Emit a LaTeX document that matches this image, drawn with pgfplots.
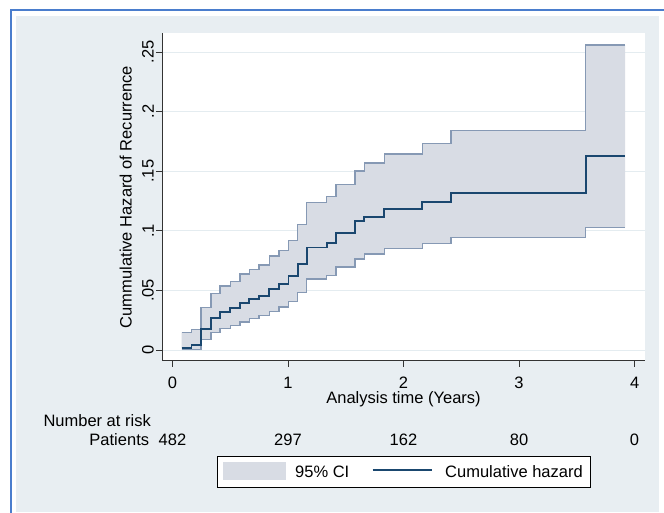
\documentclass[border=0pt]{standalone}
\usepackage{fontspec}
\setmainfont{Liberation Sans}
\usepackage{pgfplots}
\pgfplotsset{compat=1.18}
\usepackage{pgfplotstable}

\definecolor{bgcol}{RGB}{232,238,242}
\definecolor{bordercol}{RGB}{74,125,205}
\definecolor{cifill}{RGB}{216,220,228}
\definecolor{ciline}{RGB}{134,153,180}
\definecolor{hazcol}{RGB}{26,71,111}
\definecolor{gridcol}{RGB}{228,236,240}

% step estimates: time, cumulative hazard, upper and lower 95% CI
\pgfplotstableread{
t      H       U       L
0.080  0.0020  0.0145  0.0005
0.166  0.0040  0.0172  0.0005
0.247  0.0175  0.0355  0.0090
0.333  0.0270  0.0476  0.0145
0.412  0.0320  0.0537  0.0180
0.500  0.0350  0.0573  0.0205
0.584  0.0397  0.0638  0.0235
0.665  0.0425  0.0677  0.0262
0.750  0.0453  0.0713  0.0292
0.838  0.0510  0.0789  0.0325
0.922  0.0553  0.0835  0.0362
1.005  0.0620  0.0920  0.0405
1.085  0.0725  0.1053  0.0485
1.163  0.0860  0.1236  0.0595
1.335  0.0895  0.1288  0.0625
1.415  0.0982  0.1387  0.0697
1.580  0.1080  0.1503  0.0765
1.660  0.1118  0.1570  0.0805
1.834  0.1180  0.1644  0.0850
2.163  0.1244  0.1733  0.0895
2.410  0.1320  0.1840  0.0945
3.577  0.1628  0.2559  0.1029
3.918  0.1628  0.2559  0.1029
}\hazdata

% outline of the 95% CI band (upper steps forward, lower steps back)
\pgfplotstableread{
t      y
0.080  0.0145
0.166  0.0145
0.166  0.0172
0.247  0.0172
0.247  0.0355
0.333  0.0355
0.333  0.0476
0.412  0.0476
0.412  0.0537
0.500  0.0537
0.500  0.0573
0.584  0.0573
0.584  0.0638
0.665  0.0638
0.665  0.0677
0.750  0.0677
0.750  0.0713
0.838  0.0713
0.838  0.0789
0.922  0.0789
0.922  0.0835
1.005  0.0835
1.005  0.0920
1.085  0.0920
1.085  0.1053
1.163  0.1053
1.163  0.1236
1.335  0.1236
1.335  0.1288
1.415  0.1288
1.415  0.1387
1.580  0.1387
1.580  0.1503
1.660  0.1503
1.660  0.1570
1.834  0.1570
1.834  0.1644
2.163  0.1644
2.163  0.1733
2.410  0.1733
2.410  0.1840
3.577  0.1840
3.577  0.2559
3.918  0.2559
3.918  0.1029
3.577  0.1029
3.577  0.0945
2.410  0.0945
2.410  0.0895
2.163  0.0895
2.163  0.0850
1.834  0.0850
1.834  0.0805
1.660  0.0805
1.660  0.0765
1.580  0.0765
1.580  0.0697
1.415  0.0697
1.415  0.0625
1.335  0.0625
1.335  0.0595
1.163  0.0595
1.163  0.0485
1.085  0.0485
1.085  0.0405
1.005  0.0405
1.005  0.0362
0.922  0.0362
0.922  0.0325
0.838  0.0325
0.838  0.0292
0.750  0.0292
0.750  0.0262
0.665  0.0262
0.665  0.0235
0.584  0.0235
0.584  0.0205
0.500  0.0205
0.500  0.0180
0.412  0.0180
0.412  0.0145
0.333  0.0145
0.333  0.0090
0.247  0.0090
0.247  0.0005
0.080  0.0005
}\banddata

\newcommand{\fs}{\fontsize{16.5}{19}\selectfont}

\begin{document}
\begin{tikzpicture}
\useasboundingbox (0pt,0pt) rectangle (664pt,513pt);
\fill[white] (0pt,0pt) rectangle (664pt,513pt);
\fill[bgcol] (16pt,1pt) rectangle (659pt,497pt);
\draw[bordercol, line width=1.5pt] (10.3pt,503pt) -- (664pt,503pt);
\draw[bordercol, line width=1.5pt] (11pt,0pt) -- (11pt,503.7pt);
\begin{axis}[
  at={(162pt,152pt)}, anchor=south west,
  scale only axis, width=483pt, height=328pt,
  xmin=-0.09, xmax=4.09, ymin=-0.0092, ymax=0.266,
  axis x line*=bottom, axis y line*=left,
  axis line style={black!80, line width=1pt, -},
  axis background/.style={fill=white},
  xtick={0,1,2,3,4}, xticklabels={0,1,2,3,4},
  ytick={0,0.05,0.1,0.15,0.2,0.25}, yticklabels={0,.05,.1,.15,.2,.25},
  tick align=outside, major tick length=6pt,
  tick style={black!80, line width=0.8pt},
  ymajorgrids, xmajorgrids=false,
  major grid style={gridcol, line width=1pt},
  /pgf/number format/assume math mode=true,
  ticklabel style={font=\fs, inner sep=0pt},
  yticklabel style={rotate=90, anchor=south, yshift=2pt},
  xticklabel style={anchor=north, yshift=-9.5pt},
  xlabel={Analysis time (Years)},
  ylabel={Cummulative Hazard of Recurrence},
  every axis x label/.style={at={(axis description cs:0.5,0)}, anchor=base, yshift=-43pt, font=\fs, inner sep=0pt},
  every axis y label/.style={at={(axis description cs:0,0.5)}, xshift=-30pt, rotate=90, anchor=south, font=\fs, inner sep=0pt},
  clip=false,
]
\addplot[fill=cifill, draw=none, forget plot] table[x=t,y=y]{\banddata};
\addplot[ciline, line width=1.3pt, const plot, forget plot] table[x=t,y=U]{\hazdata};
\addplot[ciline, line width=1.3pt, const plot, forget plot] table[x=t,y=L]{\hazdata};
\addplot[hazcol, line width=1.8pt, const plot, forget plot] table[x=t,y=H]{\hazdata};
\end{axis}
% number at risk table
\node[anchor=base west, inner sep=0pt, font=\fs] at (43.3pt,86pt) {Number at risk};
\node[anchor=base east, inner sep=0pt, font=\fs] at (149.3pt,67pt) {Patients};
\node[anchor=base, inner sep=0pt, font=\fs] at (172.5pt,67pt) {482};
\node[anchor=base, inner sep=0pt, font=\fs] at (288pt,67pt) {297};
\node[anchor=base, inner sep=0pt, font=\fs] at (403.5pt,67pt) {162};
\node[anchor=base, inner sep=0pt, font=\fs] at (519pt,67pt) {80};
\node[anchor=base, inner sep=0pt, font=\fs] at (634.5pt,67pt) {0};
% legend
\draw[black, line width=0.8pt, fill=white] (217pt,26pt) rectangle (590pt,57pt);
\fill[cifill] (223pt,33pt) rectangle (286pt,51.3pt);
\node[anchor=base west, inner sep=0pt, font=\fs] at (295pt,35pt) {95\% CI};
\draw[hazcol, line width=1.5pt] (372.7pt,43pt) -- (431.7pt,43pt);
\node[anchor=base west, inner sep=0pt, font=\fs] at (445pt,35pt) {Cumulative hazard};
\end{tikzpicture}
\end{document}
